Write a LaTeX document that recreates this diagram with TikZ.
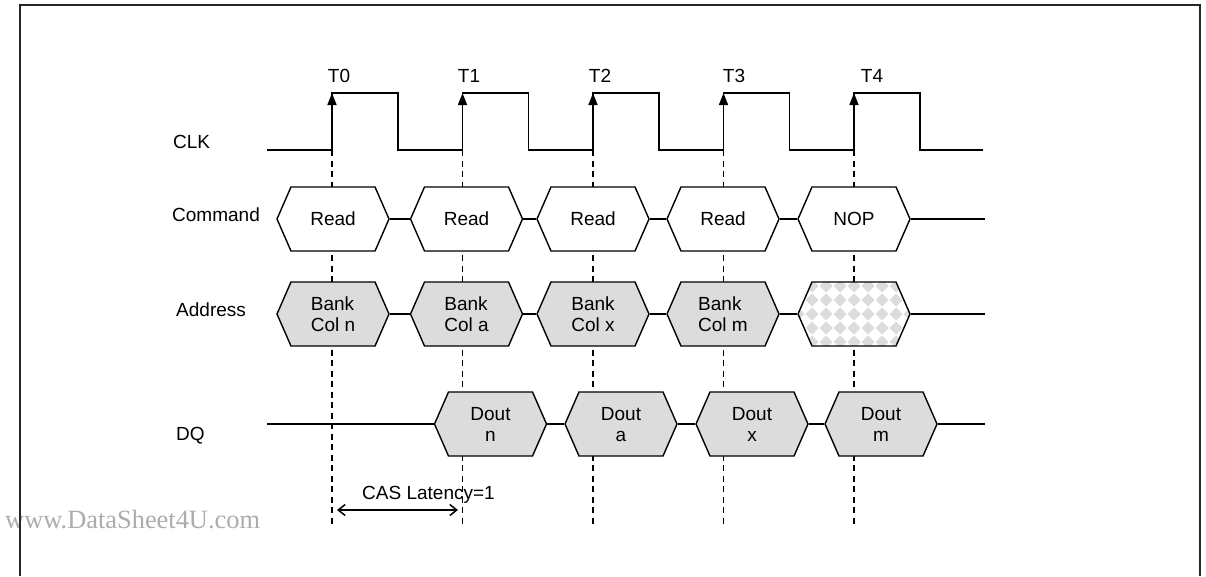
\documentclass[tikz,border=0pt]{standalone}
\usepackage{fontspec}
\setmainfont{Liberation Sans}
\newfontfamily\wmfont{Liberation Serif}
\usetikzlibrary{shapes.symbols,arrows.meta}
\definecolor{boxgray}{RGB}{220,220,220}
\definecolor{wmgray}{RGB}{172,172,172}
\begin{document}
\begin{tikzpicture}[x=1pt,y=-1pt,
  txt/.style={font=\fontsize{19}{21}\selectfont, inner sep=0pt},
  lbl/.style={txt, anchor=west},
  sig/.style={line width=1.5pt},
  guide/.style={line width=1.3pt, dash pattern=on 6pt off 4.5pt},
  hexbox/.style={txt, signal, signal to=east and west, signal pointer angle=132.8,
    draw, line width=1.4pt, minimum width=112pt, minimum height=64pt, align=center},
  cmdbox/.style={hexbox, fill=white},
  adrbox/.style={hexbox, fill=boxgray, align=left},
  dqbox/.style={hexbox, fill=boxgray, text depth=0pt},
  checker/.style={hexbox, fill=white,
    path picture={
      \foreach \i in {-5,...,5}{
        \foreach \j in {-3,...,3}{
          \fill[boxgray] ([shift={(\i*14pt,\j*14pt)}]path picture bounding box.center)
            +(0,6.5pt) -- +(6.5pt,0) -- +(0,-6.5pt) -- +(-6.5pt,0) -- cycle;
        }
      }
    }},
  clkarrow/.style={line width=1.5pt, -{Triangle[length=12pt,width=9pt]}}
]
\useasboundingbox (0,0) rectangle (1206,576);

% watermark
\node[font=\wmfont\fontsize{26.4}{28}\selectfont, text=wmgray, inner sep=0pt, anchor=west] (wm) at (5,520) {www.DataSheet4U.com};

% frame
\draw[line width=1.8pt, black!85] (20,576) -- (20,5) -- (1200,5) -- (1200,576);

% row labels
\node[lbl] (lclk) at (173,142) {CLK};
\node[lbl] (lcmd) at (172,215) {Command};
\node[lbl] (ladr) at (176,310) {Address};
\node[lbl] (ldq) at (176,436) {DQ};

% clock tick labels
\node[txt] (t0) at (339,76) {T0};
\node[txt] (t1) at (469,76) {T1};
\node[txt] (t2) at (600,76) {T2};
\node[txt] (t3) at (734,76) {T3};
\node[txt] (t4) at (872,76) {T4};

% dashed guide lines
\foreach \e [count=\k] in {332,462.5,593,723.5,854}{
  \coordinate (g\k top) at (\e,150);
  \coordinate (g\k bot) at (\e,524);
  \draw[guide] (g\k top) -- (g\k bot);
}

% clock waveform
\draw[sig] (267,150)
  foreach \e in {332,462.5,593,723.5,854}{ -- (\e,150) -- (\e,93) -- (\e+66,93) -- (\e+66,150) }
  -- (983,150);
\foreach \e [count=\k] in {332,462.5,593,723.5,854}{
  \coordinate (r\k lo) at (\e,150);
  \coordinate (r\k hi) at (\e,93);
  \draw[clkarrow] (r\k lo) -- (r\k hi);
}

% command row
\node[cmdbox] (cmd1) at (333,219) {Read};
\node[cmdbox] (cmd2) at (466.5,219) {Read};
\node[cmdbox] (cmd3) at (593,219) {Read};
\node[cmdbox] (cmd4) at (723,219) {Read};
\node[cmdbox] (cmd5) at (854,219) {NOP};
\coordinate (cmdend) at (985,219);
\draw[sig] (cmd1.east) -- (cmd2.west);
\draw[sig] (cmd2.east) -- (cmd3.west);
\draw[sig] (cmd3.east) -- (cmd4.west);
\draw[sig] (cmd4.east) -- (cmd5.west);
\draw[sig] (cmd5.east) -- (cmdend);

% address row
\node[adrbox] (adr1) at (333,314) {Bank\\Col n};
\node[adrbox] (adr2) at (466.5,314) {Bank\\Col a};
\node[adrbox] (adr3) at (593,314) {Bank\\Col x};
\node[adrbox] (adr4) at (723,314) {Bank\\Col m};
\node[checker] (adr5) at (854,314) {};
\coordinate (adrend) at (985,314);
\draw[sig] (adr1.east) -- (adr2.west);
\draw[sig] (adr2.east) -- (adr3.west);
\draw[sig] (adr3.east) -- (adr4.west);
\draw[sig] (adr4.east) -- (adr5.west);
\draw[sig] (adr5.east) -- (adrend);

% DQ row
\coordinate (dqstart) at (267,424);
\node[dqbox] (dq1) at (490.5,424) {Dout\\n};
\node[dqbox] (dq2) at (621,424) {Dout\\a};
\node[dqbox] (dq3) at (752,424) {Dout\\x};
\node[dqbox] (dq4) at (881,424) {Dout\\m};
\coordinate (dqend) at (985,424);
\draw[sig] (dqstart) -- (dq1.west);
\draw[sig] (dq1.east) -- (dq2.west);
\draw[sig] (dq2.east) -- (dq3.west);
\draw[sig] (dq3.east) -- (dq4.west);
\draw[sig] (dq4.east) -- (dqend);

% CAS latency
\node[lbl] (cas) at (362,495) {CAS Latency=1};
\coordinate (casl) at (337,510);
\coordinate (casr) at (458,510);
\draw[sig, {Straight Barb[length=7pt,width=11pt]}-{Straight Barb[length=7pt,width=11pt]}] (casl) -- (casr);
\end{tikzpicture}
\end{document}
